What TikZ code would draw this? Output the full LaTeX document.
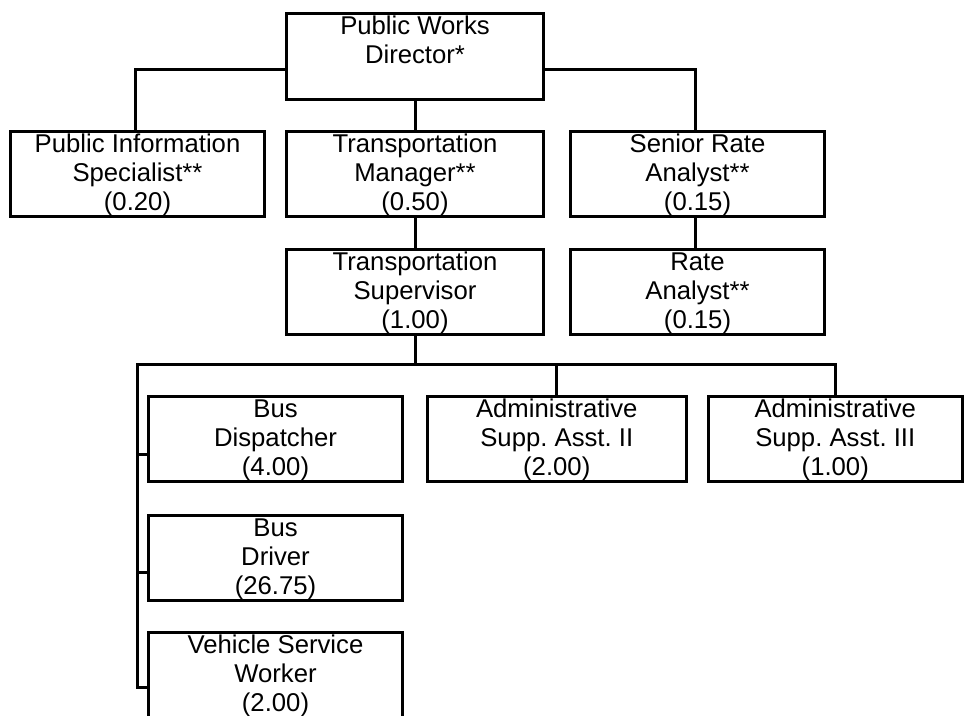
\documentclass[tikz,border=0pt]{standalone}
\usepackage{fontspec}
\setmainfont{Liberation Sans}
\newcommand{\bxtext}[3]{\vbox to #2pt{\hsize=#1pt\parindent=0pt\centering\frenchspacing\fontsize{25.7}{29}\selectfont\baselineskip=29pt\lineskiplimit=-10pt\leavevmode\rule{0pt}{21pt}#3\par\vss}}
\tikzset{
  orgbox/.style={draw, line width=3pt, inner sep=0pt, outer sep=0pt, anchor=north west},
  conn/.style={draw, line width=3pt, line cap=rect, line join=miter}
}
\begin{document}
\begin{tikzpicture}[x=1pt,y=-1pt]
\useasboundingbox (0,0) rectangle (965,715);
\fill[white] (0,0) rectangle (965,715);
\clip (0,0) rectangle (965,715);
% level 0
\node[orgbox] (dir) at (286.5,13.5) {\bxtext{257}{86}{Public Works\\Director*}};
% level 1
\node[orgbox] (pis) at (10.5,131.5) {\bxtext{254}{85}{Public Information\\Specialist**\\(0.20)}};
\node[orgbox] (tm) at (286.5,131.5) {\bxtext{257}{85}{Transportation\\Manager**\\(0.50)}};
\node[orgbox] (sra) at (570.5,131.5) {\bxtext{254}{85}{Senior Rate\\Analyst**\\(0.15)}};
% level 2
\node[orgbox] (ts) at (286.5,249.5) {\bxtext{257}{85}{Transportation\\Supervisor\\(1.00)}};
\node[orgbox] (ra) at (570.5,249.5) {\bxtext{254}{85}{Rate\\Analyst**\\(0.15)}};
% level 3
\node[orgbox] (bd) at (148.5,396.5) {\bxtext{254}{85}{Bus\\Dispatcher\\(4.00)}};
\node[orgbox] (asa2) at (427.5,396.5) {\bxtext{258.5}{85}{Administrative\\Supp. Asst. II\\(2.00)}};
\node[orgbox] (asa3) at (708,396.5) {\bxtext{254.5}{85}{Administrative\\Supp. Asst. III\\(1.00)}};
\node[orgbox] (bdr) at (148.5,515) {\bxtext{254}{85}{Bus\\Driver\\(26.75)}};
\node[orgbox] (vsw) at (148.5,632) {\bxtext{254}{110}{Vehicle Service\\Worker\\(2.00)}};
% connectors
\coordinate (bar) at (137.5,364.5);
\draw[conn] ([yshift=-13pt]dir.west) -| ([xshift=-2pt]pis.north);
\draw[conn] ([yshift=-13pt]dir.east) -| ([xshift=-2pt]sra.north);
\draw[conn] (dir.south) -- (tm.north);
\draw[conn] (tm.south) -- (ts.north);
\draw[conn] ([xshift=-2pt]sra.south) -- ([xshift=-2pt]ra.north);
\draw[conn] (ts.south) -- (ts.south |- bar);
\draw[conn] (asa3.north) |- (bar) -- ([yshift=-55.5pt]bar |- vsw.north);
\draw[conn] (asa2.north) -- (asa2.north |- bar);
\draw[conn] ([yshift=-58pt]bd.north west) -- ++(-11,0);
\draw[conn] ([yshift=-57.5pt]bdr.north west) -- ++(-11,0);
\draw[conn] ([yshift=-55.5pt]vsw.north west) -- ++(-11,0);
\end{tikzpicture}
\end{document}
